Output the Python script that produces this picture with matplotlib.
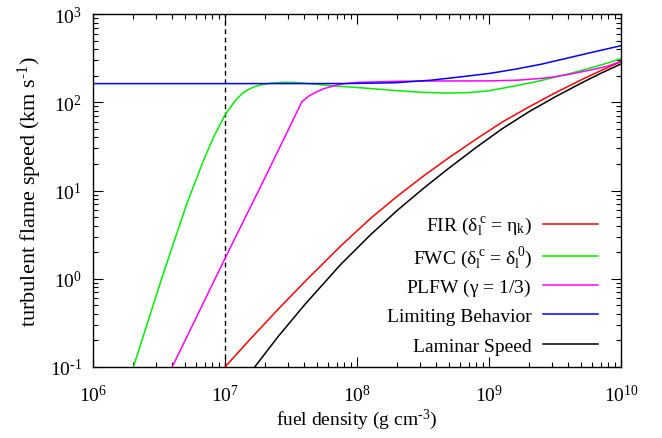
import numpy as np
import matplotlib
matplotlib.use("Agg")
import matplotlib.pyplot as plt
from matplotlib.legend import Legend
from matplotlib.ticker import LogLocator, NullFormatter, FuncFormatter

plt.rcParams["font.family"] = ["Liberation Serif", "DejaVu Serif"]
plt.rcParams["mathtext.default"] = "regular"
plt.rcParams["axes.unicode_minus"] = False
plt.rcParams["font.size"] = 14

# fuel density (g cm^-3) and turbulent flame speed (km s^-1) for each model
fir_rho = [1e7, 1.585e7, 2.512e7, 3.981e7, 7.5e7, 1.259e8, 2.018e8, 3.162e8, 4.842e8,
           7.943e8, 1.259e9, 1.995e9, 3.162e9, 5.012e9, 7.079e9, 1e10]
fir_s = [0.1, 0.214, 0.447, 0.912, 2.34, 4.79, 8.61, 14.45, 22.9,
         38.0, 59.6, 88.1, 127.4, 179.9, 229.1, 288.4]

fwc_rho = [2.023e6, 2.512e6, 3.311e6, 3.981e6, 5.140e6, 6.026e6, 6.871e6, 8.185e6,
           9.120e6, 1e7, 1.109e7, 1.230e7, 1.380e7, 1.549e7, 1.738e7, 1.963e7,
           2.291e7, 2.780e7, 3.388e7, 4.169e7, 6.310e7, 1.122e8, 2.018e8, 3.162e8,
           4.842e8, 7.079e8, 1e9, 1.641e9, 2.472e9, 3.020e9, 3.981e9, 5.916e9,
           7.943e9, 1e10]
fwc_s = [0.1, 0.275, 1.0, 2.291, 7.079, 13.18, 21.88, 40.18,
         54.95, 71.61, 89.13, 109.6, 128.8, 142.9, 153.1, 160.3,
         165.2, 168.3, 167.5, 163.3, 154.2, 145.2, 135.2, 129.4,
         127.1, 128.8, 134.9, 154.9, 175.8, 189.7, 208.9, 245.5,
         278.6, 312.6]

plfw_rho = [3.98e6, 1e7, 2.0e7, 3.83e7, 4.365e7, 4.98e7, 5.623e7, 6.31e7, 7.5e7, 1e8,
            2.14e8, 3.98e8, 1e9, 1.641e9, 2.472e9, 3.02e9, 3.981e9, 5.916e9,
            7.943e9, 1e10]
plfw_s = [0.1, 1.7, 13.8, 101.6, 118.9, 131.8, 142.9, 149.6, 160.3, 167.9,
          173.0, 174.2, 174.6, 177.8, 186.2, 192.8, 206.5, 232.3,
          257.0, 291.7]

lim_rho = [1e6, 1e7, 7.943e7, 1.413e8, 1.995e8, 2.818e8, 3.631e8, 6.310e8, 1.023e9,
           1.585e9, 2.472e9, 3.548e9, 5.888e9, 1e10]
lim_s = [162.6, 162.6, 162.9, 164.8, 166.7, 173.0, 177.8, 195.0, 212.8,
         237.1, 269.2, 305.5, 364.7, 437.5]

lam_rho = [1.679e7, 2.512e7, 3.981e7, 7.5e7, 1.259e8, 2.018e8, 3.162e8, 4.842e8,
           7.943e8, 1.259e9, 1.995e9, 3.162e9, 5.012e9, 7.079e9, 1e10]
lam_s = [0.1, 0.219, 0.501, 1.445, 3.126, 5.957, 10.47, 17.38,
         30.55, 50.12, 77.62, 114.8, 165.2, 213.8, 271.6]

marker_rho = 1e7

series = [
    (fir_rho, fir_s, "#ff0000", r"FIR ($\delta_l^{\,c}$ = $\eta_k$)"),
    (fwc_rho, fwc_s, "#00ee00", r"FWC ($\delta_l^{\,c}$ = $\delta_l^{\,0}$)"),
    (plfw_rho, plfw_s, "#ff00ff", r"PLFW ($\gamma$ = 1/3)"),
    (lim_rho, lim_s, "#0000ff", "Limiting Behavior"),
    (lam_rho, lam_s, "black", "Laminar Speed"),
]
key_rows = [0.399, 0.312, 0.2266, 0.1445, 0.0595]


def power_label(v, pos):
    exp = int(round(np.log10(v)))
    txt = str(exp).replace("-", "\u2010")
    return r"$10^{%s}$" % txt


fig = plt.figure(figsize=(6.62, 4.39), dpi=100)
ax = fig.add_axes([93 / 662, 71 / 439, 528 / 662, 353 / 439])

ax.axvline(marker_rho, color="black", lw=1.0, ls=(0, (3.5, 2.5)))
lines = []
for rho, s, col, lab in series:
    (ln,) = ax.plot(rho, s, color=col, lw=1.1, label=lab)
    lines.append(ln)

ax.set_xscale("log")
ax.set_yscale("log")
ax.set_xlim(1e6, 1e10)
ax.set_ylim(0.1, 1000)

ax.xaxis.set_major_locator(LogLocator(base=10, numticks=10))
ax.yaxis.set_major_locator(LogLocator(base=10, numticks=10))
ax.xaxis.set_minor_locator(LogLocator(base=10, subs=np.arange(2, 10), numticks=20))
ax.yaxis.set_minor_locator(LogLocator(base=10, subs=np.arange(2, 10), numticks=20))
ax.xaxis.set_major_formatter(FuncFormatter(power_label))
ax.yaxis.set_major_formatter(FuncFormatter(power_label))
ax.xaxis.set_minor_formatter(NullFormatter())
ax.yaxis.set_minor_formatter(NullFormatter())

ax.tick_params(which="both", direction="in", top=True, right=True, width=0.8)
ax.tick_params(which="major", length=7)
ax.tick_params(which="minor", length=3.5)
ax.tick_params(axis="x", which="major", pad=12)
ax.tick_params(axis="y", which="major", pad=8)
for sp in ax.spines.values():
    sp.set_linewidth(1.0)

ax.set_xlabel("fuel density (g cm$^{\u20103}$)", labelpad=1)
ax.set_ylabel("turbulent flame speed (km s$^{\u20101}$)", fontsize=16, labelpad=4)

# one key entry per row, text right-aligned against its line sample
for ln, yrow in zip(lines, key_rows):
    leg = Legend(ax, [ln], [ln.get_label()], loc="center right",
                 bbox_to_anchor=(0.956, yrow), markerfirst=False, frameon=False,
                 handlelength=2.8, handletextpad=0.6, borderpad=0, borderaxespad=0)
    ax.add_artist(leg)

fig.savefig("out.png", dpi=100)
